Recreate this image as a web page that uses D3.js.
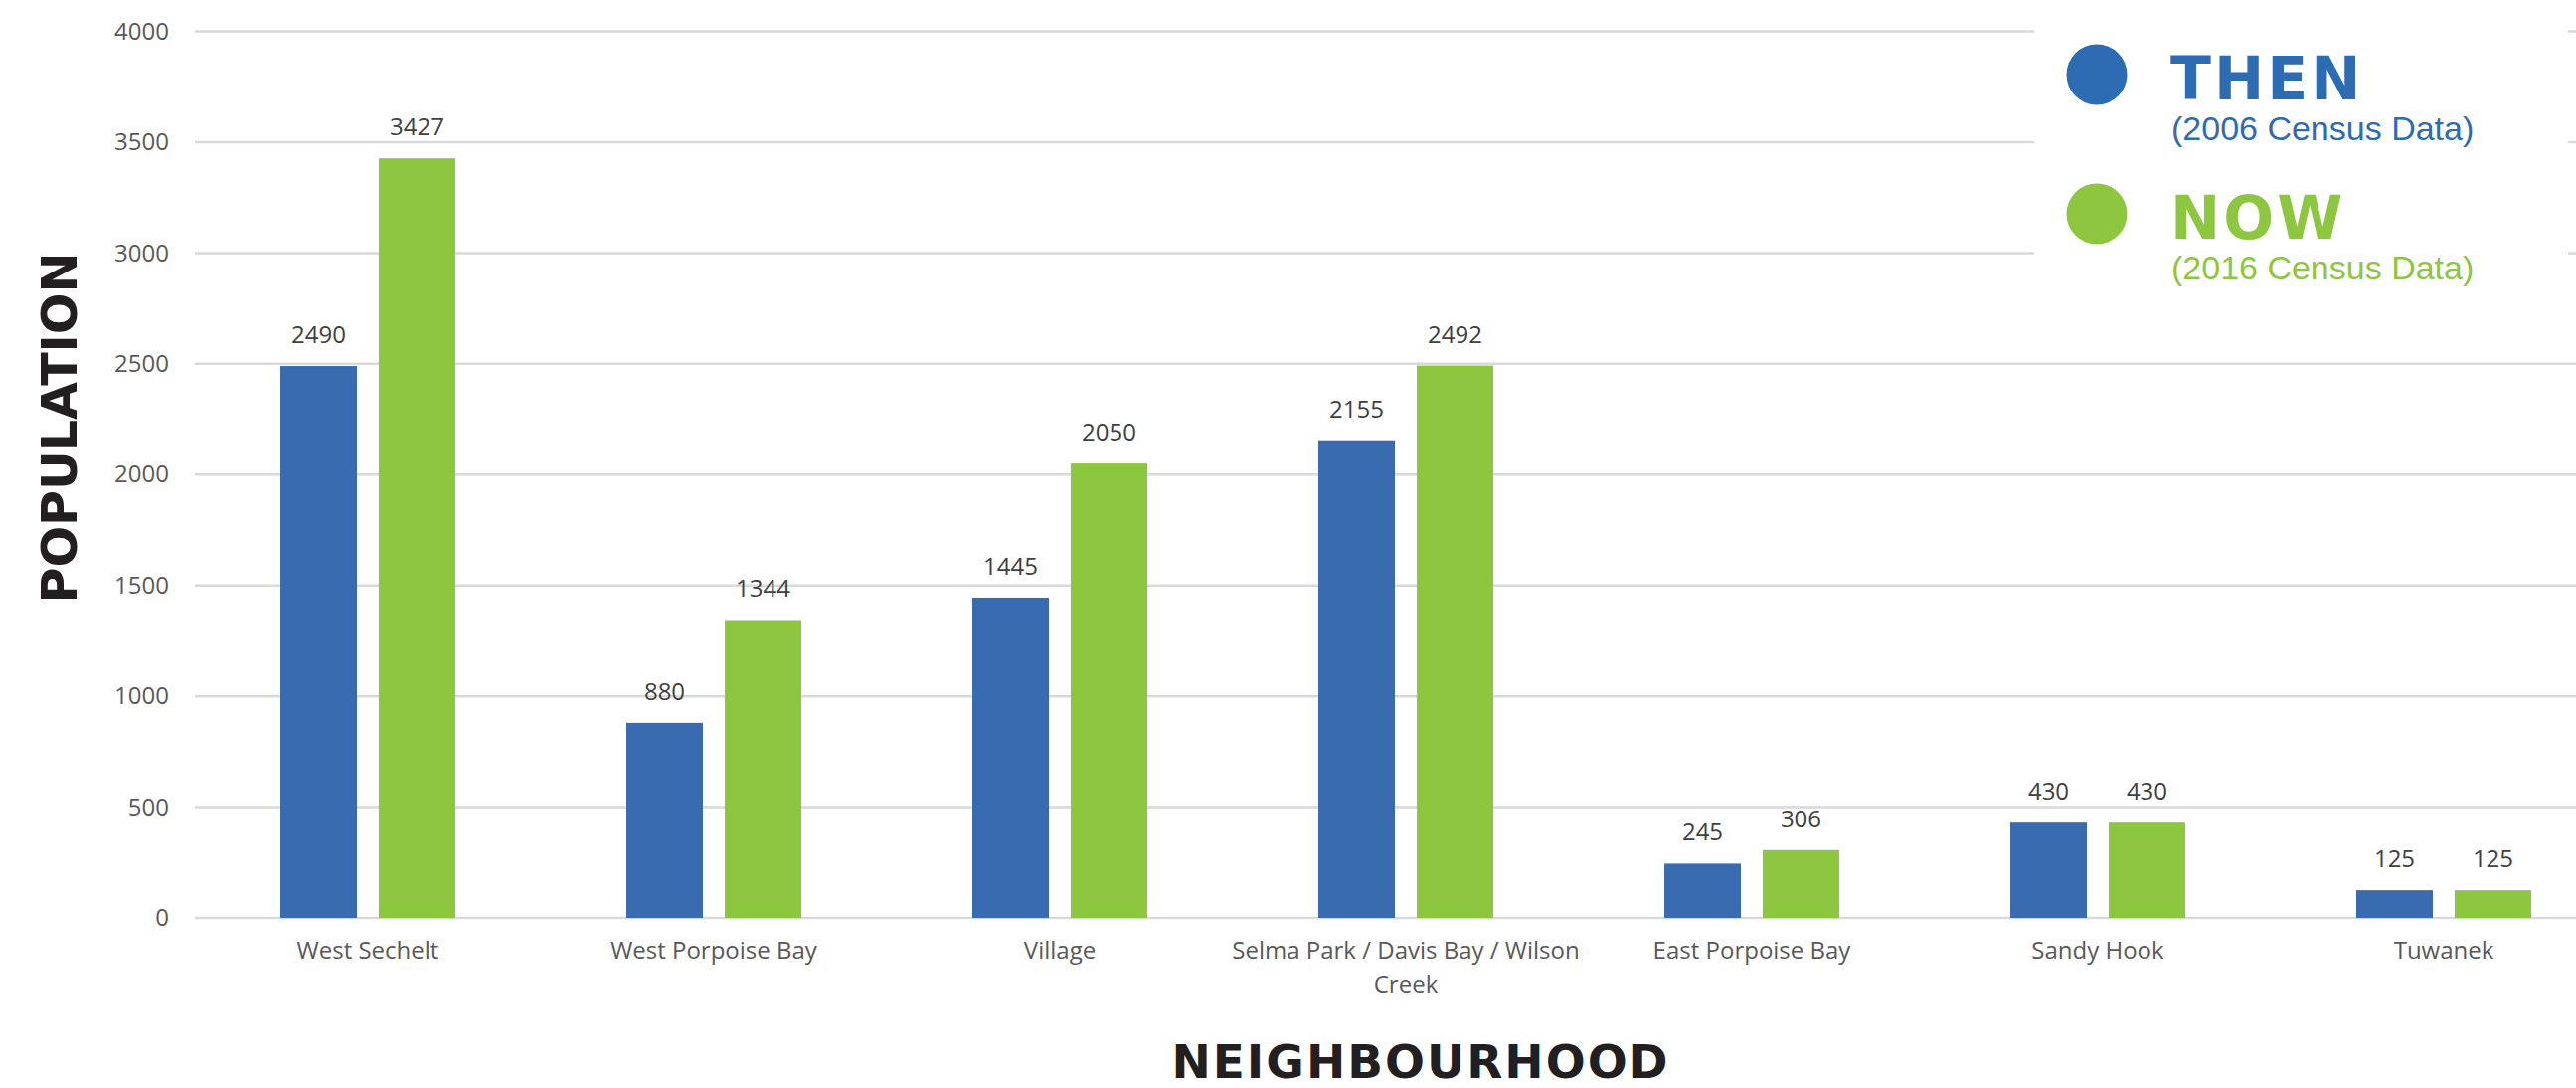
<!DOCTYPE html>
<html>
<head>
<meta charset="utf-8">
<script src="https://cdn.jsdelivr.net/npm/d3@7"></script>
<style>
  html, body { margin: 0; padding: 0; background: #ffffff; }
  svg { display: block; }
</style>
</head>
<body>
<svg id="chart" width="2591" height="1094"></svg>
<script>
// ---- Data ----
const categories = ["West Sechelt", "West Porpoise Bay", "Village", "Selma Park / Davis Bay / Wilson Creek", "East Porpoise Bay", "Sandy Hook", "Tuwanek"];
const thenValues = [2490, 880, 1445, 2155, 245, 430, 125];
const nowValues  = [3427, 1344, 2050, 2492, 306, 430, 125];
const seriesKeys = ["then", "now"];
const yTicks = [0, 500, 1000, 1500, 2000, 2500, 3000, 3500, 4000];
const legendTitles = ["THEN", "NOW"];
const legendSubtitles = ["(2006 Census Data)", "(2016 Census Data)"];
const yTitle = "POPULATION";
const xTitle = "NEIGHBOURHOOD";

// ---- Styles ----
const barColors = { then: "#386bb0", now: "#8dc63f" };
const legendColors = ["#2d6cb2", "#8dc63f"];

const W = 2591, H = 1094;
const plotLeft = 196, step = 348;
const plotRight = plotLeft + step * categories.length;
const yTop = 31.5, yBottom = 923;

const svg = d3.select("#chart");

const rows = categories.map((c, i) => ({ cat: c, then: thenValues[i], now: nowValues[i] }));

const x0 = d3.scaleBand().domain(categories).range([plotLeft, plotRight]).paddingInner(0).paddingOuter(0);
const x1 = d3.scaleBand().domain(seriesKeys).range([0, x0.bandwidth()]).paddingInner(0.222).paddingOuter(0.869);
const y = d3.scaleLinear().domain([0, 4000]).range([yBottom, yTop]);

// gridlines
svg.append("g").selectAll("line").data(yTicks).join("line")
  .attr("x1", plotLeft).attr("x2", W)
  .attr("y1", d => y(d)).attr("y2", d => y(d))
  .attr("stroke", "#d9d9d9").attr("stroke-width", 2.5);

// y axis labels
const yAxis = svg.append("g").attr("transform", `translate(${plotLeft},0)`)
  .call(d3.axisLeft(y).tickValues(yTicks).tickSize(0).tickPadding(26).tickFormat(d3.format("d")));
yAxis.select(".domain").remove();
yAxis.selectAll("text")
  .attr("font-family", "'Open Sans', sans-serif").attr("font-size", 24).attr("fill", "#595959");

// bars
const groups = svg.append("g").selectAll("g").data(rows).join("g")
  .attr("transform", d => `translate(${x0(d.cat)},0)`);
groups.selectAll("rect").data(d => seriesKeys.map(k => ({ key: k, value: d[k] }))).join("rect")
  .attr("x", d => x1(d.key)).attr("width", x1.bandwidth())
  .attr("y", d => y(d.value)).attr("height", d => y(0) - y(d.value))
  .attr("fill", d => barColors[d.key]);
groups.selectAll("text").data(d => seriesKeys.map(k => ({ key: k, value: d[k] }))).join("text")
  .attr("x", d => x1(d.key) + x1.bandwidth() / 2)
  .attr("y", d => y(d.value) - 23)
  .attr("text-anchor", "middle")
  .attr("font-family", "'Open Sans', sans-serif").attr("font-size", 24).attr("fill", "#404040")
  .text(d => d.value);

// x axis labels
const xAxis = svg.append("g").attr("transform", `translate(0,${yBottom})`)
  .call(d3.axisBottom(x0).tickSize(0));
xAxis.select(".domain").remove();
xAxis.selectAll("text")
  .attr("font-family", "'Open Sans', sans-serif").attr("font-size", 24).attr("fill", "#595959")
  .attr("y", 41).attr("dy", 0)
  .each(function(d) {
    const t = d3.select(this);
    const words = d.split(" ");
    t.text(null);
    let line = [];
    let lineNo = 0;
    let tspan = t.append("tspan").attr("x", 0).attr("y", 41);
    for (const w of words) {
      line.push(w);
      tspan.text(line.join(" "));
      if (tspan.node().getComputedTextLength() > 380 && line.length > 1) {
        line.pop();
        tspan.text(line.join(" "));
        line = [w];
        lineNo++;
        tspan = t.append("tspan").attr("x", 0).attr("y", 41 + lineNo * 34).text(w);
      }
    }
  });

// axis titles
svg.append("text")
  .attr("transform", `translate(77,430) rotate(-90)`)
  .attr("text-anchor", "middle")
  .attr("font-family", "'DejaVu Sans', sans-serif").attr("font-weight", "bold")
  .attr("font-size", 49).attr("fill", "#231f20")
  .text(yTitle);
svg.append("text")
  .attr("x", 1429).attr("y", 1084)
  .attr("text-anchor", "middle")
  .attr("font-family", "'DejaVu Sans', sans-serif").attr("font-weight", "bold")
  .attr("font-size", 47).attr("letter-spacing", 2).attr("fill", "#231f20")
  .text(xTitle);

// legend
const lg = svg.append("g");
lg.append("rect").attr("x", 2046).attr("y", 8).attr("width", 2583 - 2046).attr("height", 292).attr("fill", "#ffffff");
const items = lg.selectAll("g.item").data(legendTitles.map((t, i) => ({ t, s: legendSubtitles[i], c: legendColors[i], i })))
  .join("g").attr("class", "item").attr("transform", d => `translate(0,${d.i * 140})`);
items.append("circle").attr("cx", 2109).attr("cy", 75).attr("r", 30.5).attr("fill", d => d.c);
items.append("text").attr("x", 2183).attr("y", 100)
  .attr("font-family", "'DejaVu Sans', sans-serif").attr("font-weight", "bold")
  .attr("font-size", 60).attr("letter-spacing", 3).attr("fill", d => d.c)
  .text(d => d.t);
items.append("text").attr("x", 2184).attr("y", 141)
  .attr("font-family", "'Liberation Sans', Arial, sans-serif")
  .attr("font-size", 34).attr("fill", d => d.c)
  .text(d => d.s);
</script>
</body>
</html>
